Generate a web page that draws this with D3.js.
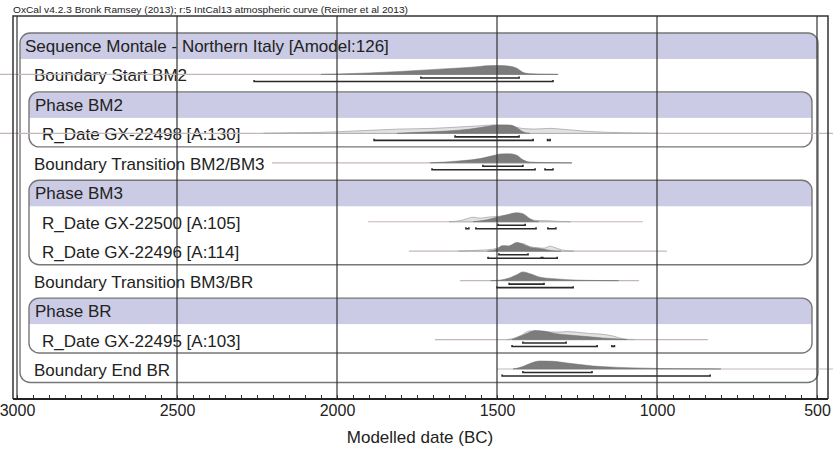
<!DOCTYPE html>
<html>
<head>
<meta charset="utf-8">
<script src="https://cdn.jsdelivr.net/npm/d3@7"></script>
<style>
  body { margin: 0; background: #fff; }
  text { font-family: "Liberation Sans", Arial, Helvetica, sans-serif; fill: #222; }
</style>
</head>
<body>
<div id="chart"></div>
<script>
// rows of the OxCal model, top to bottom
const rowLabels = [
  "Sequence Montale - Northern Italy [Amodel:126]",
  "Boundary Start BM2",
  "Phase BM2",
  "R_Date GX-22498 [A:130]",
  "Boundary Transition BM2/BM3",
  "Phase BM3",
  "R_Date GX-22500 [A:105]",
  "R_Date GX-22496 [A:114]",
  "Boundary Transition BM3/BR",
  "Phase BR",
  "R_Date GX-22495 [A:103]",
  "Boundary End BR"
];
const rowKinds = ["sequence", "boundary", "phase", "date", "boundary", "phase",
  "date", "date", "boundary", "phase", "date", "boundary"];
const phaseFirstRow = [2, 5, 9];
const phaseLastRow = [3, 7, 10];

// [year BC, relative probability]
const startBM2Post = [[2050,0],[1991,0.05],[1900,0.15],[1803,0.3],[1750,0.4],[1656,0.58],[1606,0.66],[1553,0.8],[1531,0.88],[1491,0.9],[1459,0.82],[1438,0.62],[1419,0.22],[1397,0.07],[1350,0.02],[1309,0]];
const gx22498Like = [[2230,0],[2150,0.05],[2050,0.1],[1991,0.17],[1900,0.3],[1812,0.42],[1700,0.5],[1606,0.66],[1550,0.76],[1512,0.84],[1469,0.82],[1438,0.6],[1419,0.48],[1381,0.43],[1334,0.5],[1300,0.42],[1260,0.32],[1219,0.2],[1150,0.1],[1094,0.05],[1000,0]];
const gx22498Post = [[1812,0],[1750,0.1],[1656,0.23],[1584,0.43],[1522,0.73],[1500,0.83],[1459,0.83],[1438,0.57],[1419,0.17],[1397,0]];
const transBM2BM3Post = [[1709,0],[1650,0.1],[1606,0.22],[1553,0.42],[1512,0.72],[1491,0.88],[1459,0.9],[1438,0.75],[1419,0.3],[1397,0.08],[1350,0.03],[1303,0.01],[1266,0]];
const gx22500Like = [[1650,0],[1616,0.1],[1594,0.3],[1575,0.45],[1553,0.35],[1531,0.45],[1512,0.5],[1491,0.55],[1469,0.65],[1438,0.85],[1419,0.6],[1397,0.25],[1375,0.12],[1341,0.1],[1303,0.03],[1270,0]];
const gx22500Post = [[1575,0],[1562,0.05],[1531,0.2],[1500,0.45],[1469,0.7],[1438,0.9],[1419,0.8],[1397,0.3],[1381,0.05],[1370,0]];
const gx22496Like = [[1620,0],[1590,0.05],[1550,0.1],[1512,0.2],[1491,0.4],[1475,0.55],[1459,0.5],[1438,0.8],[1419,0.75],[1397,0.45],[1375,0.35],[1353,0.3],[1334,0.5],[1318,0.35],[1294,0.1],[1260,0]];
const gx22496Post = [[1530,0],[1500,0.2],[1484,0.55],[1465,0.5],[1438,0.87],[1419,0.7],[1397,0.4],[1375,0.3],[1353,0.2],[1338,0.1],[1320,0.03],[1300,0]];
const transBM3BRPost = [[1520,0],[1491,0.05],[1459,0.3],[1438,0.6],[1419,0.87],[1397,0.7],[1366,0.35],[1325,0.2],[1281,0.1],[1241,0.04],[1178,0.01],[1120,0]];
const gx22495Like = [[1470,0],[1450,0.1],[1420,0.5],[1400,0.85],[1380,0.85],[1344,0.75],[1303,0.75],[1281,0.8],[1241,0.7],[1209,0.6],[1178,0.55],[1137,0.35],[1116,0.15],[1094,0.03],[1070,0]];
const gx22495Post = [[1453,0],[1422,0.4],[1400,0.7],[1381,0.9],[1350,0.83],[1319,0.6],[1275,0.45],[1219,0.3],[1170,0.15],[1116,0.05],[1094,0]];
const endBRPost = [[1450,0],[1419,0.25],[1397,0.55],[1366,0.8],[1325,0.77],[1281,0.6],[1241,0.45],[1200,0.3],[1147,0.2],[1094,0.13],[991,0.05],[887,0.02],[800,0]];

const likelihoods = [null, null, null, gx22498Like, null, null, gx22500Like, gx22496Like, null, null, gx22495Like, null];
const posteriors = [null, startBM2Post, null, gx22498Post, transBM2BM3Post, null, gx22500Post, gx22496Post, transBM3BRPost, null, gx22495Post, endBRPost];

// extent of the thin line under each distribution
const baselineSpans = [null, [3100,1309], null, [3100,400], [2203,1266], null, [1903,1044], [1775,969], [1616,1056], null, [1694,841], [1500,400]];

// highest posterior density ranges
const range68 = [null, [[1738,1431]], null, [[1631,1431]], [[1544,1419]], null, [[1497,1412]], [[1494,1403]], [[1462,1353]], null, [[1419,1284]], [[1419,1203]]];
const range95 = [null, [[2259,1325]], null, [[1884,1387],[1342,1334]], [[1703,1381],[1350,1325]], null,
  [[1597,1588],[1566,1378],[1341,1316]], [[1528,1362],[1357,1312]], [[1500,1262]], null,
  [[1453,1187],[1141,1133]], [[1484,834]]];

const majorTicks = [3000, 2500, 2000, 1500, 1000, 500];
const minorTicks = d3.range(3000, 499, -50);
const headerText = "OxCal v4.2.3 Bronk Ramsey (2013); r:5 IntCal13 atmospheric curve (Reimer et al 2013)";
const axisTitle = "Modelled date (BC)";

const W = 833, H = 452;
const frame = { left: 13, right: 828, top: 16, bottom: 399 };

const svg = d3.select("#chart").append("svg").attr("width", W).attr("height", H);

const x = d3.scaleLinear().domain([3000, 500]).range([17, 817]);
const rowY = d3.scaleLinear().domain([0, rowLabels.length - 1]).range([46, 370]);
const h = d3.scaleLinear().domain([0, 1]).range([0, 10]);

// boxes and bands
const defs = svg.append("defs");
function addBox(id, x0, x1, y0, y1, bandRow) {
  defs.append("clipPath").attr("id", id).append("rect")
    .attr("x", x0).attr("y", y0).attr("width", x1 - x0).attr("height", y1 - y0).attr("rx", 10);
  svg.append("rect").attr("clip-path", `url(#${id})`)
    .attr("x", x0).attr("y", rowY(bandRow) - 13).attr("width", x1 - x0).attr("height", 26)
    .attr("fill", "#cbcbe5");
  svg.append("rect")
    .attr("x", x0).attr("y", y0).attr("width", x1 - x0).attr("height", y1 - y0).attr("rx", 10)
    .attr("fill", "none").attr("stroke", "#777").attr("stroke-width", 1.4);
}
addBox("seq", 20, 818, rowY(0) - 13, rowY(rowLabels.length - 1) + 12.5, 0);
phaseFirstRow.forEach((r, i) => addBox("ph" + i, 29, 812, rowY(r) - 13, rowY(phaseLastRow[i]) + 12.5, r));

// labels
const labelX = { sequence: 25, boundary: 34, phase: 35, date: 42 };
svg.append("g").selectAll("text").data(rowLabels).join("text")
  .attr("x", (d, i) => labelX[rowKinds[i]])
  .attr("y", (d, i) => rowY(i) + 6)
  .attr("font-size", 17)
  .text(d => d);

// distributions
const area = (base) => d3.area().curve(d3.curveMonotoneX)
  .x(d => x(d[0])).y0(base).y1(d => base - h(d[1]));

const dist = svg.append("g");
rowLabels.forEach((lab, i) => {
  const base = rowY(i) - 1;
  if (baselineSpans[i]) {
    dist.append("line")
      .attr("x1", x(baselineSpans[i][0])).attr("x2", x(baselineSpans[i][1]))
      .attr("y1", base).attr("y2", base)
      .attr("stroke", "#c4b8b4").attr("stroke-width", 1.2);
  }
  if (likelihoods[i]) {
    dist.append("path").datum(likelihoods[i]).attr("d", area(base))
      .attr("fill", "#e2e2e2").attr("stroke", "#a8a8a8").attr("stroke-width", 0.8);
  }
  if (posteriors[i]) {
    dist.append("path").datum(posteriors[i]).attr("d", area(base))
      .attr("fill", "#7c7c7c").attr("stroke", "#6e6e6e").attr("stroke-width", 0.5);
  }
  [[range68[i], 3.5], [range95[i], 7]].forEach(([ranges, off]) => {
    if (!ranges) return;
    ranges.forEach(r => {
      const y = base + off;
      dist.append("path")
        .attr("d", `M${x(r[0])},${y - 1.5}V${y}H${x(r[1])}V${y - 1.5}`)
        .attr("fill", "none").attr("stroke", "#2a2a2a").attr("stroke-width", 1.6);
    });
  });
});

// grid lines on top
svg.append("g").selectAll("line").data(majorTicks).join("line")
  .attr("x1", d => x(d)).attr("x2", d => x(d))
  .attr("y1", frame.top).attr("y2", frame.bottom)
  .attr("stroke", "#333").attr("stroke-width", 1.2);

// frame
svg.append("path")
  .attr("d", `M${frame.left},${frame.bottom}V${frame.top}H${frame.right}V${frame.bottom}`)
  .attr("fill", "none").attr("stroke", "#333").attr("stroke-width", 1.5);

// axis
const minorAxis = svg.append("g").attr("transform", `translate(0,${frame.bottom})`)
  .call(d3.axisTop(x).tickValues(minorTicks).tickSize(4).tickFormat(""));
minorAxis.select(".domain").remove();
minorAxis.selectAll("line").attr("stroke", "#333");

const majorAxis = svg.append("g").attr("transform", `translate(0,${frame.bottom})`)
  .call(d3.axisBottom(x).tickValues(majorTicks).tickSize(0).tickPadding(6).tickFormat(d3.format("d")));
majorAxis.select(".domain").remove();
majorAxis.selectAll("text").attr("font-size", 16).attr("font-family", null).attr("fill", "#222");

svg.append("line")
  .attr("x1", frame.left).attr("x2", frame.right)
  .attr("y1", frame.bottom).attr("y2", frame.bottom)
  .attr("stroke", "#222").attr("stroke-width", 2);

svg.append("text")
  .attr("x", (x(3000) + x(500)) / 2 + 3).attr("y", 443)
  .attr("text-anchor", "middle").attr("font-size", 17)
  .text(axisTitle);

svg.append("text")
  .attr("x", 13).attr("y", 12.5)
  .attr("font-size", 9).attr("textLength", 395).attr("lengthAdjust", "spacingAndGlyphs")
  .text(headerText);
</script>
</body>
</html>
